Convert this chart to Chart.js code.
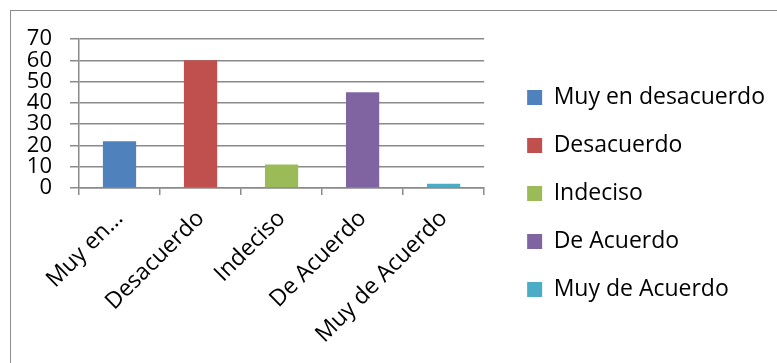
<!DOCTYPE html>
<html>
<head>
<meta charset="utf-8">
<script src="https://cdn.jsdelivr.net/npm/chart.js@4/dist/chart.umd.min.js"></script>
<style>
  html, body { margin: 0; padding: 0; background: #fff; }
  #wrap { width: 777px; height: 363px; position: relative; }
</style>
</head>
<body>
<div id="wrap"><canvas id="chart"></canvas></div>
<script>
// Survey answers, one bar per option
const categories = ['Muy en desacuerdo', 'Desacuerdo', 'Indeciso', 'De Acuerdo', 'Muy de Acuerdo'];
const tickLabels = ['Muy en...', 'Desacuerdo', 'Indeciso', 'De Acuerdo', 'Muy de Acuerdo'];
const values = [22, 60, 11, 45, 2];
const barColors = ['#4F81BD', '#C0504D', '#9BBB59', '#8064A2', '#4BACC6'];
const yTicks = [0, 10, 20, 30, 40, 50, 60, 70];

const FONT = "'Open Sans', 'DejaVu Sans', sans-serif";
const GRID = '#8a8a8a';

// Thin frame like the Excel chart area border
const framePlugin = {
  id: 'frame',
  beforeDraw(chart) {
    const ctx = chart.ctx;
    ctx.save();
    ctx.strokeStyle = '#8c8c8c';
    ctx.lineWidth = 1;
    ctx.strokeRect(10.5, 10.5, chart.width + 20, chart.height + 20);
    ctx.restore();
  },
};

new Chart(document.getElementById('chart'), {
  type: 'bar',
  data: {
    labels: tickLabels,
    datasets: [{
      label: 'Serie 1',
      data: values,
      backgroundColor: barColors,
      borderWidth: 0,
      barPercentage: 0.41,
      categoryPercentage: 1,
    }],
  },
  options: {
    responsive: true,
    maintainAspectRatio: false,
    animation: false,
    layout: { padding: { left: 10, top: 39, right: 2, bottom: 15 } },
    plugins: {
      tooltip: { enabled: false },
      legend: {
        position: 'right',
        maxWidth: 320,
        labels: {
          color: '#000',
          font: { family: FONT, size: 23 },
          boxWidth: 15,
          boxHeight: 15,
          padding: 25,
          generateLabels: () => categories.map((c, i) => ({
            text: c,
            fillStyle: barColors[i],
            strokeStyle: barColors[i],
            lineWidth: 0,
            hidden: false,
            index: i,
          })),
        },
        onClick: () => {},
      },
    },
    scales: {
      x: {
        offset: true,
        grid: {
          display: true,
          drawOnChartArea: false,
          offset: true,
          color: GRID,
          lineWidth: 1.5,
          tickLength: 7,
        },
        border: { display: true, color: GRID, width: 1.5 },
        ticks: {
          color: '#000',
          font: { family: FONT, size: 23 },
          minRotation: 45,
          maxRotation: 45,
          autoSkip: false,
          padding: 10,
        },
        afterFit: (s) => { s.height = 160; },
      },
      y: {
        min: 0,
        max: 70,
        afterBuildTicks: (s) => { s.ticks = yTicks.map((v) => ({ value: v })); },
        grid: { color: GRID, lineWidth: 1.5, tickLength: 9 },
        border: { display: true, color: GRID, width: 1.5 },
        ticks: {
          color: '#000',
          font: { family: FONT, size: 22 },
          padding: 18,
          autoSkip: false,
        },
        afterFit: (s) => { s.width = 69; },
      },
      gap: {
        type: 'linear',
        position: 'right',
        display: true,
        grid: { display: false, drawTicks: false },
        border: { display: false },
        ticks: { display: false },
        afterFit: (s) => { s.width = 18; },
      },
    },
  },
  plugins: [framePlugin],
});
</script>
</body>
</html>
